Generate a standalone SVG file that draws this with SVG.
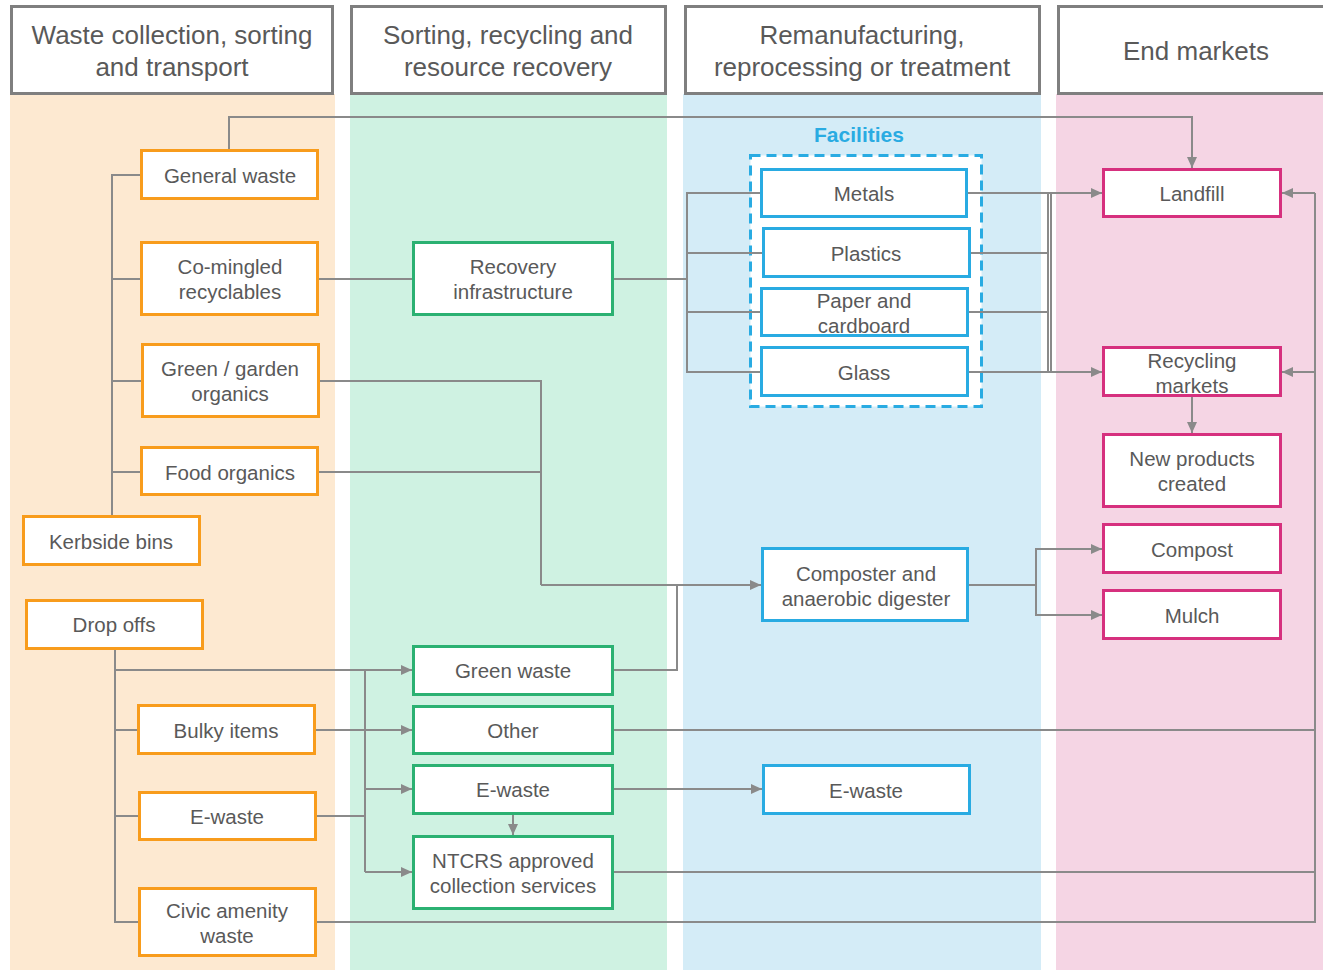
<svg xmlns="http://www.w3.org/2000/svg" width="1323" height="970" viewBox="0 0 1323 970">
  <defs>
    <marker id="arrow" markerUnits="userSpaceOnUse" markerWidth="12" markerHeight="12" viewBox="0 0 12 12" refX="11" refY="6" orient="auto">
      <path d="M0,1 L11,6 L0,11 Z" fill="#8a8a8a"/>
    </marker>
    <style>
      text { font-family: "Liberation Sans", Arial, sans-serif; fill: #595959; text-anchor: middle; dominant-baseline: central; }
      .hdr rect { fill: #ffffff; stroke: #7f7f7f; stroke-width: 3; }
      .hdr text { font-size: 26px; }
      .node text { font-size: 20.5px; }
      .node rect { fill: #ffffff; stroke-width: 3; }
      .or rect { stroke: #f89c1c; }
      .gr rect { stroke: #2bb172; }
      .bl rect { stroke: #29abe2; }
      .pk rect { stroke: #d6307e; }
      .conn path { fill: none; stroke: #8a8a8a; stroke-width: 2; }
      .arr { marker-end: url(#arrow); }
    </style>
  </defs>

  <!-- lane backgrounds -->
  <g id="lanes">
    <rect x="10" y="94" width="325" height="876" fill="#fde9d1"/>
    <rect x="350" y="94" width="317" height="876" fill="#cff2e2"/>
    <rect x="683" y="94" width="358" height="876" fill="#d4ecf7"/>
    <rect x="1056" y="94" width="267" height="876" fill="#f5d5e4"/>
  </g>

  <!-- lane headers -->
  <g id="header-collection" class="hdr">
    <rect x="11.5" y="6.5" width="321" height="87"/>
    <text x="172" y="35">Waste collection, sorting</text>
    <text x="172" y="67">and transport</text>
  </g>
  <g id="header-sorting" class="hdr">
    <rect x="351.5" y="6.5" width="314" height="87"/>
    <text x="508" y="35">Sorting, recycling and</text>
    <text x="508" y="67">resource recovery</text>
  </g>
  <g id="header-remanufacturing" class="hdr">
    <rect x="685.5" y="6.5" width="354" height="87"/>
    <text x="862" y="35">Remanufacturing,</text>
    <text x="862" y="67">reprocessing or treatment</text>
  </g>
  <g id="header-end-markets" class="hdr">
    <rect x="1058.5" y="6.5" width="270" height="87"/>
    <text x="1196" y="51">End markets</text>
  </g>

  <!-- facilities group frame -->
  <g id="facilities">
    <rect x="750.5" y="155.5" width="231" height="251" fill="#ffffff" stroke="#29abe2" stroke-width="3" stroke-dasharray="10,6"/>
    <text x="859" y="134" style="font-size:21px;font-weight:bold;fill:#29abe2">Facilities</text>
  </g>

  <!-- connectors -->
  <g id="connectors" class="conn">
    <!-- general waste to landfill -->
    <path class="arr" d="M229,150 V117 H1192 V168"/>
    <!-- kerbside bins trunk -->
    <path d="M112,516 V175 H141"/>
    <path d="M112,279 H141"/>
    <path d="M112,381 H142"/>
    <path d="M112,472 H141"/>
    <!-- co-mingled to recovery infrastructure -->
    <path d="M318,279 H413"/>
    <!-- recovery infrastructure to facilities -->
    <path d="M613,279 H687"/>
    <path d="M761,193 H687 V372 H761"/>
    <path d="M687,253 H763"/>
    <path d="M687,312 H761"/>
    <!-- facilities to landfill / recycling markets -->
    <path class="arr" d="M967,193 H1102"/>
    <path d="M970,253 H1049"/>
    <path d="M968,312 H1049"/>
    <path class="arr" d="M968,372 H1102"/>
    <path d="M1048,193 V372"/>
    <path d="M1051,193 V372"/>
    <!-- recycling markets to new products -->
    <path class="arr" d="M1192,396 V433"/>
    <!-- organics to composter -->
    <path d="M319,381 H541 V585"/>
    <path d="M318,472 H541"/>
    <path class="arr" d="M541,585 H761"/>
    <path d="M613,670 H677 V585"/>
    <!-- composter to compost / mulch -->
    <path d="M968,585 H1036"/>
    <path class="arr" d="M1036,585 V549 H1102"/>
    <path class="arr" d="M1036,585 V615 H1102"/>
    <!-- drop offs trunk -->
    <path d="M115,649 V922 H139"/>
    <path class="arr" d="M115,670 H412"/>
    <path d="M115,730 H138"/>
    <path d="M115,816 H139"/>
    <!-- bulky items to other -->
    <path class="arr" d="M315,730 H412"/>
    <!-- e-waste drop off to e-waste / NTCRS -->
    <path d="M316,816 H365"/>
    <path d="M365,670 V872"/>
    <path class="arr" d="M365,789 H412"/>
    <path class="arr" d="M365,872 H412"/>
    <path class="arr" d="M513,814 V835"/>
    <path class="arr" d="M613,789 H762"/>
    <!-- return lines to landfill / recycling markets -->
    <path d="M613,730 H1315"/>
    <path d="M613,872 H1315"/>
    <path d="M316,922 H1315 V193"/>
    <path class="arr" d="M1315,193 H1282"/>
    <path class="arr" d="M1315,372 H1282"/>
  </g>

  <!-- collection nodes -->
  <g id="general-waste" class="node or">
    <rect x="141.5" y="150.5" width="176" height="48"/>
    <text x="230" y="175">General waste</text>
  </g>
  <g id="co-mingled" class="node or">
    <rect x="141.5" y="242.5" width="176" height="72"/>
    <text x="230" y="266">Co-mingled</text>
    <text x="230" y="291">recyclables</text>
  </g>
  <g id="green-garden" class="node or">
    <rect x="142.5" y="344.5" width="176" height="72"/>
    <text x="230" y="368">Green / garden</text>
    <text x="230" y="393">organics</text>
  </g>
  <g id="food-organics" class="node or">
    <rect x="141.5" y="447.5" width="176" height="47"/>
    <text x="230" y="472">Food organics</text>
  </g>
  <g id="kerbside-bins" class="node or">
    <rect x="23.5" y="516.5" width="176" height="48"/>
    <text x="111" y="541">Kerbside bins</text>
  </g>
  <g id="drop-offs" class="node or">
    <rect x="26.5" y="600.5" width="176" height="48"/>
    <text x="114" y="624">Drop offs</text>
  </g>
  <g id="bulky-items" class="node or">
    <rect x="138.5" y="705.5" width="176" height="48"/>
    <text x="226" y="730">Bulky  items</text>
  </g>
  <g id="e-waste-drop" class="node or">
    <rect x="139.5" y="792.5" width="176" height="47"/>
    <text x="227" y="816">E-waste</text>
  </g>
  <g id="civic-amenity" class="node or">
    <rect x="139.5" y="888.5" width="176" height="67"/>
    <text x="227" y="910">Civic amenity</text>
    <text x="227" y="935">waste</text>
  </g>

  <!-- sorting nodes -->
  <g id="recovery-infrastructure" class="node gr">
    <rect x="413.5" y="242.5" width="199" height="72"/>
    <text x="513" y="266">Recovery</text>
    <text x="513" y="291">infrastructure</text>
  </g>
  <g id="green-waste" class="node gr">
    <rect x="413.5" y="646.5" width="199" height="48"/>
    <text x="513" y="670">Green waste</text>
  </g>
  <g id="other" class="node gr">
    <rect x="413.5" y="706.5" width="199" height="47"/>
    <text x="513" y="730">Other</text>
  </g>
  <g id="e-waste-sort" class="node gr">
    <rect x="413.5" y="765.5" width="199" height="48"/>
    <text x="513" y="789">E-waste</text>
  </g>
  <g id="ntcrs" class="node gr">
    <rect x="413.5" y="836.5" width="199" height="72"/>
    <text x="513" y="860">NTCRS approved</text>
    <text x="513" y="885">collection services</text>
  </g>

  <!-- reprocessing nodes -->
  <g id="metals" class="node bl">
    <rect x="761.5" y="169.5" width="205" height="47"/>
    <text x="864" y="193">Metals</text>
  </g>
  <g id="plastics" class="node bl">
    <rect x="763.5" y="228.5" width="206" height="48"/>
    <text x="866" y="253">Plastics</text>
  </g>
  <g id="paper-cardboard" class="node bl">
    <rect x="761.5" y="288.5" width="206" height="47"/>
    <text x="864" y="300">Paper and</text>
    <text x="864" y="325">cardboard</text>
  </g>
  <g id="glass" class="node bl">
    <rect x="761.5" y="347.5" width="206" height="48"/>
    <text x="864" y="372">Glass</text>
  </g>
  <g id="composter" class="node bl">
    <rect x="762.5" y="548.5" width="205" height="72"/>
    <text x="866" y="573">Composter and</text>
    <text x="866" y="598">anaerobic digester</text>
  </g>
  <g id="e-waste-reprocess" class="node bl">
    <rect x="763.5" y="765.5" width="206" height="48"/>
    <text x="866" y="790">E-waste</text>
  </g>

  <!-- end market nodes -->
  <g id="landfill" class="node pk">
    <rect x="1103.5" y="169.5" width="177" height="47"/>
    <text x="1192" y="193">Landfill</text>
  </g>
  <g id="recycling-markets" class="node pk">
    <rect x="1103.5" y="347.5" width="177" height="48"/>
    <text x="1192" y="360">Recycling</text>
    <text x="1192" y="385">markets</text>
  </g>
  <g id="new-products" class="node pk">
    <rect x="1103.5" y="434.5" width="177" height="72"/>
    <text x="1192" y="458">New products</text>
    <text x="1192" y="483">created</text>
  </g>
  <g id="compost" class="node pk">
    <rect x="1103.5" y="524.5" width="177" height="48"/>
    <text x="1192" y="549">Compost</text>
  </g>
  <g id="mulch" class="node pk">
    <rect x="1103.5" y="590.5" width="177" height="48"/>
    <text x="1192" y="615">Mulch</text>
  </g>
</svg>
